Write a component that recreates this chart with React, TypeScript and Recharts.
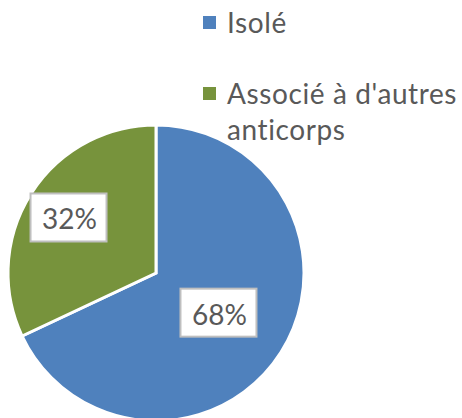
import React from "react";
import { PieChart, Pie, Cell, Legend } from "recharts";

const categories = ["Isolé", "Associé à d'autres anticorps"];
const values = [68, 32];
const colors = ["#4f81bd", "#77933c"];

const data = categories.map((name, i) => ({ name, value: values[i] }));

const RADIAN = Math.PI / 180;

const renderLabel = (props: any) => {
  const { cx, cy, midAngle, outerRadius, percent } = props;
  const r = outerRadius * (percent > 0.5 ? 0.5 : 0.7);
  const x = cx + r * Math.cos(-midAngle * RADIAN);
  const y = cy + r * Math.sin(-midAngle * RADIAN);
  const w = 76;
  const h = 48;
  return (
    <g>
      <rect x={x - w / 2} y={y - h / 2} width={w} height={h} fill="#ffffff" stroke="#bfbfbf" strokeWidth={2} />
      <text
        x={x + 1}
        y={y + 1}
        textAnchor="middle"
        dominantBaseline="central"
        fill="#595959"
        fontSize={28}
        fontFamily="Lato, 'Open Sans', sans-serif"
      >
        {`${Math.round(percent * 100)}%`}
      </text>
    </g>
  );
};

const LegendContent = () => (
  <div
    style={{
      fontFamily: "Lato, 'Open Sans', sans-serif",
      fontSize: 28,
      letterSpacing: 0.6,
      color: "#595959",
      lineHeight: "36px",
    }}
  >
    {data.map((d, i) => (
      <div key={d.name} style={{ position: "relative", paddingLeft: 24, marginBottom: i === 0 ? 35 : 0 }}>
        <span
          style={{
            position: "absolute",
            left: 0,
            top: 12,
            width: 13,
            height: 13,
            background: colors[i],
          }}
        />
        {d.name}
      </div>
    ))}
  </div>
);

export default function App() {
  return (
    <div style={{ position: "absolute", left: 0, top: 0, width: 462, height: 418, background: "#fff" }}>
      <PieChart width={462} height={418} margin={{ top: 0, right: 0, bottom: 0, left: 0 }}>
        <Pie
          data={data}
          dataKey="value"
          cx={156}
          cy={273}
          outerRadius={148}
          startAngle={90}
          endAngle={-270}
          stroke="#ffffff"
          strokeWidth={3}
          label={renderLabel}
          labelLine={false}
          isAnimationActive={false}
        >
          {data.map((d, i) => (
            <Cell key={d.name} fill={colors[i]} />
          ))}
        </Pie>
        <Legend
          content={<LegendContent />}
          wrapperStyle={{ position: "absolute", left: 203, top: 4, width: 259 }}
        />
      </PieChart>
    </div>
  );
}
